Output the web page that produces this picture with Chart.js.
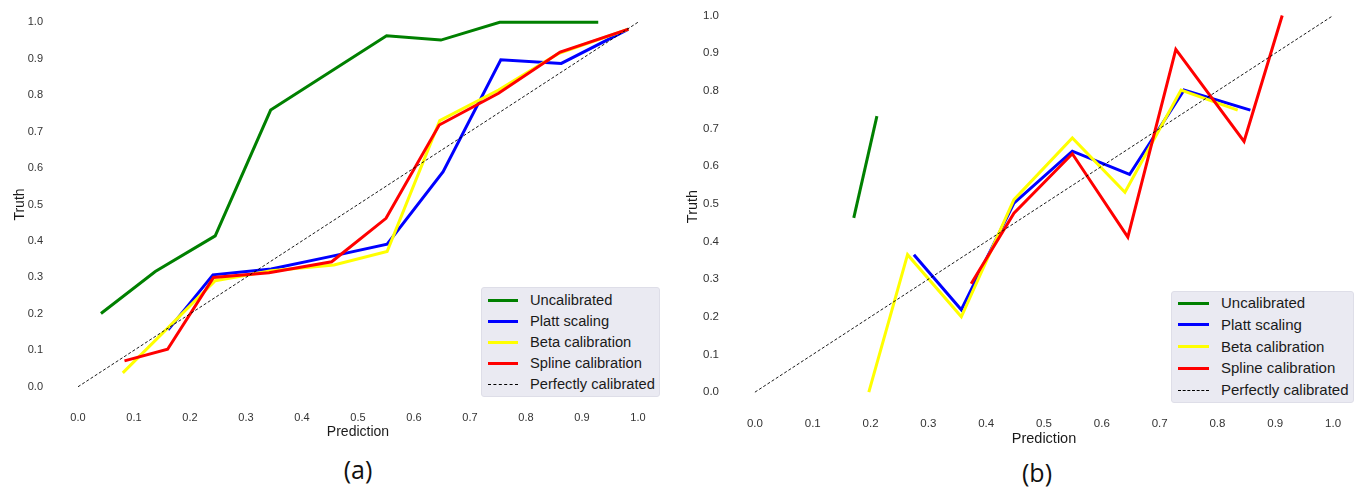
<!DOCTYPE html>
<html>
<head>
<meta charset="utf-8">
<script src="https://cdn.jsdelivr.net/npm/chart.js@4.4.0/dist/chart.umd.min.js"></script>
<style>
  body { margin: 0; background: #fff; width: 1363px; height: 487px; overflow: hidden; position: relative;
         font-family: "Liberation Sans", Arial, sans-serif; }
  canvas { position: absolute; top: 0; }
  .legend { position: absolute; background: #eaeaf2; border: 1px solid #dedee8; border-radius: 3px; box-sizing: border-box; }
  .legend .ln { position: absolute; height: 0; }
  .legend .tx { position: absolute; height: 20px; line-height: 20px; color: #1a1a1a; white-space: nowrap; }
  .panel { position: absolute; font-family: "Open Sans", "Noto Sans", sans-serif; font-size: 25px; color: #111; transform: translate(-50%, -50%); }
</style>
</head>
<body>
<canvas id="chartA" width="680" height="445" style="left:0px"></canvas>
<canvas id="chartB" width="683" height="452" style="left:680px"></canvas>
<div class="panel" style="left:358px;top:469px">(a)</div>
<div class="panel" style="left:1037px;top:472px">(b)</div>
<script>
const tickVals = [0, 0.1, 0.2, 0.3, 0.4, 0.5, 0.6, 0.7, 0.8, 0.9, 1.0];
const seriesNames = ["Uncalibrated", "Platt scaling", "Beta calibration", "Spline calibration", "Perfectly calibrated"];
const seriesColors = ["#008000", "#0000ff", "#ffff00", "#ff0000", "#000000"];

const perfectX = [0, 1];
const perfectY = [0, 1];

// panel (a)
const uncalA_x = [0.041, 0.138, 0.245, 0.344, 0.551, 0.648, 0.753, 0.929];
const uncalA_y = [0.201, 0.316, 0.414, 0.759, 0.963, 0.951, 1.0, 1.0];
const plattA_x = [0.161, 0.241, 0.345, 0.45, 0.552, 0.652, 0.755, 0.863, 0.983];
const plattA_y = [0.156, 0.307, 0.323, 0.357, 0.391, 0.590, 0.897, 0.887, 0.981];
const betaA_x = [0.080, 0.245, 0.345, 0.457, 0.552, 0.646, 0.751, 0.859, 0.983];
const betaA_y = [0.038, 0.291, 0.318, 0.334, 0.371, 0.730, 0.814, 0.915, 0.981];
const splineA_x = [0.083, 0.160, 0.242, 0.341, 0.453, 0.550, 0.645, 0.751, 0.861, 0.983];
const splineA_y = [0.071, 0.103, 0.300, 0.313, 0.343, 0.462, 0.718, 0.805, 0.918, 0.981];

// panel (b)
const uncalB_x = [0.171, 0.211];
const uncalB_y = [0.463, 0.733];
const plattB_x = [0.275, 0.357, 0.448, 0.549, 0.648, 0.742, 0.857];
const plattB_y = [0.365, 0.219, 0.502, 0.640, 0.578, 0.802, 0.749];
const betaB_x = [0.197, 0.264, 0.357, 0.448, 0.549, 0.640, 0.737, 0.835];
const betaB_y = [0.0, 0.365, 0.200, 0.511, 0.675, 0.531, 0.802, 0.749];
const splineB_x = [0.374, 0.448, 0.549, 0.645, 0.728, 0.846, 0.912];
const splineB_y = [0.288, 0.475, 0.633, 0.412, 0.910, 0.666, 1.0];

function pts(xs, ys) {
  return xs.map((x, i) => ({ x: x, y: ys[i] }));
}

function buildDatasets(series) {
  // series order: uncal, platt, beta, spline, perfect
  return series.map((s, i) => {
    const dashed = i === 4;
    return {
      label: seriesNames[i],
      data: pts(s[0], s[1]),
      borderColor: seriesColors[i],
      borderWidth: dashed ? 0.9 : 3,
      borderDash: dashed ? [3, 2] : [],
      pointRadius: 0,
      fill: false,
      tension: 0,
      order: 4 - i
    };
  });
}

function makeChart(id, series, o) {
  const tickColor = "#333";
  return new Chart(document.getElementById(id), {
    type: "line",
    data: { datasets: buildDatasets(series) },
    options: {
      responsive: false,
      animation: false,
      devicePixelRatio: 1,
      layout: { padding: o.padding },
      plugins: { legend: { display: false }, tooltip: { enabled: false } },
      scales: {
        x: {
          type: "linear",
          min: -0.05, max: 1.05,
          afterBuildTicks: (axis) => { axis.ticks = tickVals.map(v => ({ value: v })); },
          afterFit: (axis) => { axis.height = o.xHeight; axis.paddingLeft = 0; axis.paddingRight = 0; },
          grid: { display: false, drawTicks: false },
          border: { display: false },
          ticks: { autoSkip: false, maxRotation: 0, padding: 6, color: tickColor,
                   font: { family: "Liberation Sans", size: o.tickSize },
                   callback: (v) => v.toFixed(1) },
          title: { display: true, text: "Prediction", color: "#1a1a1a",
                   font: { family: "Liberation Sans", size: o.titleSize } }
        },
        y: {
          type: "linear",
          min: -0.05, max: o.yMax,
          afterBuildTicks: (axis) => { axis.ticks = tickVals.map(v => ({ value: v })); },
          afterFit: (axis) => { axis.width = o.yWidth; axis.paddingTop = 0; axis.paddingBottom = 0; },
          grid: { display: false, drawTicks: false },
          border: { display: false },
          ticks: { autoSkip: false, padding: 7, color: tickColor,
                   font: { family: "Liberation Sans", size: o.tickSize },
                   callback: (v) => v.toFixed(1) },
          title: { display: true, text: "Truth", color: "#1a1a1a",
                   font: { family: "Liberation Sans", size: o.titleSize } }
        }
      }
    }
  });
}

makeChart("chartA",
  [[uncalA_x, uncalA_y], [plattA_x, plattA_y], [betaA_x, betaA_y], [splineA_x, splineA_y], [perfectX, perfectY]],
  { padding: { left: 8, top: 4, right: 14, bottom: 0 }, xHeight: 40, yWidth: 42, yMax: 1.05, tickSize: 11, titleSize: 14 });

makeChart("chartB",
  [[uncalB_x, uncalB_y], [plattB_x, plattB_y], [betaB_x, betaB_y], [splineB_x, splineB_y], [perfectX, perfectY]],
  { padding: { left: 0, top: 2, right: 1, bottom: 0 }, xHeight: 41, yWidth: 46, yMax: 1.036, tickSize: 11.5, titleSize: 14.5 });

function makeLegend(box) {
  const lg = document.createElement("div");
  lg.className = "legend";
  lg.style.left = box.left + "px";
  lg.style.top = box.top + "px";
  lg.style.width = box.w + "px";
  lg.style.height = box.h + "px";
  seriesNames.forEach((name, i) => {
    const cy = box.row0 + i * box.step;
    const ln = document.createElement("div");
    ln.className = "ln";
    ln.style.left = box.lineX + "px";
    ln.style.width = box.lineW + "px";
    if (i === 4) {
      ln.style.top = (cy - 0.5) + "px";
      ln.style.borderTop = "1px dashed #000";
    } else {
      ln.style.top = (cy - 1.5) + "px";
      ln.style.borderTop = "3px solid " + seriesColors[i];
    }
    lg.appendChild(ln);
    const tx = document.createElement("div");
    tx.className = "tx";
    tx.style.left = box.textX + "px";
    tx.style.top = (cy - 10) + "px";
    tx.style.fontSize = box.font + "px";
    tx.textContent = name;
    lg.appendChild(tx);
  });
  document.body.appendChild(lg);
}

makeLegend({ left: 481, top: 287, w: 179, h: 110, row0: 12, step: 21, lineX: 6, lineW: 30, textX: 48, font: 14.7 });
makeLegend({ left: 1171, top: 291, w: 183, h: 112, row0: 11, step: 21.8, lineX: 6, lineW: 31, textX: 49, font: 15 });
</script>
</body>
</html>
